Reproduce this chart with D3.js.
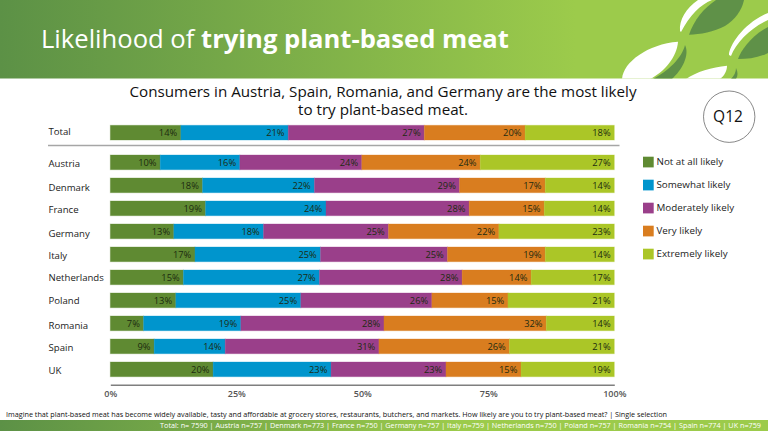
<!DOCTYPE html>
<html>
<head>
<meta charset="utf-8">
<script src="https://cdn.jsdelivr.net/npm/d3@7/dist/d3.min.js"></script>
<style>
  html, body { margin: 0; padding: 0; background: #fff; }
  svg { display: block; font-family: "Open Sans", sans-serif; }
</style>
</head>
<body>
<div id="vis"></div>
<script>
var totalRow = ["Total"];
var countries = ["Austria", "Denmark", "France", "Germany", "Italy", "Netherlands", "Poland", "Romania", "Spain", "UK"];
var levels = ["Not at all likely", "Somewhat likely", "Moderately likely", "Very likely", "Extremely likely"];
var levelColors = ["#5f8a32", "#0095cd", "#9a3f8a", "#d97d1f", "#abc627"];

// one array per answer, Total first then countries in order
var notAtAll   = [14.0, 9.9, 18.3, 18.9, 12.6, 16.8, 14.5, 13.0, 6.6, 8.7, 20.4];
var somewhat   = [21.3, 15.8, 22.2, 23.9, 17.8, 24.9, 27.0, 24.8, 19.3, 14.1, 23.4];
var moderately = [27.0, 24.2, 28.8, 28.4, 24.8, 25.2, 28.3, 26.0, 28.4, 30.5, 22.8];
var veryLikely = [20.0, 23.5, 17.0, 14.9, 21.9, 19.4, 13.7, 15.1, 32.2, 25.9, 14.9];
var extremely  = [17.7, 26.6, 13.7, 13.9, 22.9, 13.7, 16.5, 21.1, 13.5, 20.8, 18.5];
var xTicks = [0, 25, 50, 75, 100];

var rowNames = totalRow.concat(countries);
var series = [notAtAll, somewhat, moderately, veryLikely, extremely];

var svg = d3.select("#vis").append("svg").attr("width", 768).attr("height", 431);
var defs = svg.append("defs");

var headGrad = defs.append("linearGradient").attr("id", "head");
headGrad.append("stop").attr("offset", "0%").attr("stop-color", "#5c9146");
headGrad.append("stop").attr("offset", "75%").attr("stop-color", "#9ccb4b");
var footGrad = defs.append("linearGradient").attr("id", "foot");
footGrad.append("stop").attr("offset", "0%").attr("stop-color", "#5c9146");
footGrad.append("stop").attr("offset", "60%").attr("stop-color", "#9ccb4b");

// header band
svg.append("rect").attr("width", 768).attr("height", 78.5).attr("fill", "url(#head)");
defs.append("clipPath").attr("id", "headClip").append("rect").attr("width", 768).attr("height", 78.5);
var leaves = svg.append("g").attr("clip-path", "url(#headClip)");
leaves.append("path").attr("fill", "#5f9148").attr("d", "M689 34.7 C694 20 704 8 716 0 L744 0 C742 10 735 20 725 26 C714 32 700 34.5 689 34.7Z");
leaves.append("path").attr("fill", "#fff").attr("d", "M680 31 C679 20 686 8 698 0 L712 0 C700 5 690 15 681 32Z");
leaves.append("path").attr("fill", "#5f9148").attr("d", "M738 59 C741 50 752 35 768 27 L768 53 C758 58 748 59 738 59Z");
leaves.append("path").attr("fill", "#fff").attr("d", "M729 55 C729 45 745 22 768 13 L768 20 C752 27 736 42 731 56Z");
leaves.append("path").attr("fill", "#fff").attr("d", "M622 79 C623 62 648 44 678 41.7 C677 57 664 72 650 79Z");
leaves.append("path").attr("fill", "#5f9148").attr("d", "M653 79 C668 71 682 58 685 45 C690 55 682 70 672 79Z");
leaves.append("path").attr("fill", "#fff").attr("d", "M686 79 C696 72 712 67 727 65.7 C727 71 724 76 720 79Z");
leaves.append("path").attr("fill", "#5f9148").attr("d", "M731 79 C734 76 736 72 736 68 C738 72 738 76 736 79Z");

svg.append("text").attr("x", 41).attr("y", 48).attr("fill", "#fff").attr("font-size", 25.6)
  .html('Likelihood of <tspan font-weight="700">trying plant-based meat</tspan>');

// headline
svg.append("g").attr("text-anchor", "middle").attr("font-size", 15.2).attr("fill", "#111")
  .selectAll("text")
  .data(["Consumers in Austria, Spain, Romania, and Germany are the most likely", "to try plant-based meat."])
  .join("text")
  .attr("x", 383).attr("y", function(d, i) { return 96.5 + i * 18; })
  .text(function(d) { return d; });

// Q12 badge
svg.append("circle").attr("cx", 729.2).attr("cy", 116.7).attr("r", 25.7).attr("fill", "#fff").attr("stroke", "#555").attr("stroke-width", 0.7);
svg.append("text").attr("x", 728).attr("y", 122).attr("text-anchor", "middle").attr("font-size", 15.5).attr("fill", "#111").text("Q12");

// scales
var x = d3.scaleLinear().domain([0, 100]).range([110.3, 614.3]);
var yCountry = d3.scaleBand().domain(countries).range([150.85, 380.85]).paddingInner(0.36).paddingOuter(0.18);
var y = function(name) { return name === "Total" ? yCountry("Austria") - 29.7 : yCountry(name); };
var barH = yCountry.bandwidth();

// row names sit a little unevenly next to the bars in the original
var labelShift = { Total: -1, Austria: 1, Denmark: 2, France: 1.5, Germany: 2, Italy: 1, Netherlands: 0.5, Poland: 0.5, Romania: 2.5, Spain: 1, UK: 1.5 };

var rows = rowNames.map(function(name, i) {
  var sum = 0;
  var parts = series.map(function(s, k) {
    var p = { level: k, value: s[i], x0: sum };
    sum += s[i];
    p.x1 = sum;
    return p;
  });
  return { name: name, parts: parts };
});

var row = svg.append("g").selectAll("g").data(rows).join("g")
  .attr("transform", function(d) { return "translate(0," + y(d.name) + ")"; });

row.append("text").attr("x", 48.5).attr("y", function(d) { return barH / 2 + 3.5 + labelShift[d.name]; })
  .attr("font-size", 9.6).attr("fill", "#222")
  .text(function(d) { return d.name; });

var seg = row.selectAll("g.seg").data(function(d) { return d.parts; }).join("g").attr("class", "seg");
seg.append("rect")
  .attr("x", function(p) { return x(p.x0); })
  .attr("width", function(p) { return x(p.x1) - x(p.x0); })
  .attr("height", barH)
  .attr("fill", function(p) { return levelColors[p.level]; })
  .attr("stroke", function(p) { return levelColors[p.level]; })
  .attr("stroke-opacity", 0.3).attr("stroke-width", 1);
seg.append("text")
  .attr("x", function(p) { return x(p.x1) - 3.7; })
  .attr("y", barH / 2 + 3.3)
  .attr("text-anchor", "end").attr("font-size", 9.3).attr("fill", "#1c2b10")
  .text(function(p) { return Math.round(p.value) + "%"; });

// rules
svg.append("line").attr("x1", 48).attr("x2", 619.5).attr("y1", 145.5).attr("y2", 145.5).attr("stroke", "#a6a6a6").attr("stroke-width", 1.5);
var axis = d3.axisBottom(x).tickValues(xTicks).tickSize(0).tickPadding(6).tickFormat(function(d) { return d + "%"; });
var axisG = svg.append("g").attr("transform", "translate(0,384.7)").call(axis);
axisG.select(".domain").attr("stroke", "#7f7f7f").attr("stroke-width", 1.5);
axisG.selectAll("text").attr("font-family", "Open Sans").attr("font-size", 9).attr("font-weight", 600).attr("fill", "#555");

// legend
var legend = svg.append("g").selectAll("g").data(levels).join("g")
  .attr("transform", function(d, i) { return "translate(643," + (156.7 + i * 23) + ")"; });
legend.append("rect").attr("width", 10.7).attr("height", 10.7).attr("fill", function(d, i) { return levelColors[i]; });
legend.append("text").attr("x", 13.5).attr("y", 8.5).attr("font-size", 9.8).attr("fill", "#222").text(function(d) { return d; });

// footer
svg.append("text").attr("x", 6).attr("y", 416.8).attr("font-size", 7.23).attr("fill", "#111")
  .text("Imagine that plant-based meat has become widely available, tasty and affordable at grocery stores, restaurants, butchers, and markets. How likely are you to try plant-based meat? | Single selection");
svg.append("rect").attr("y", 420).attr("width", 768).attr("height", 11).attr("fill", "url(#foot)");
svg.append("text").attr("x", 761).attr("y", 428).attr("text-anchor", "end").attr("font-size", 7.25).attr("fill", "#fff")
  .text("Total: n= 7590 | Austria n=757 | Denmark n=773 | France n=750 |  Germany n=757 | Italy n=759 | Netherlands n=750 | Poland n=757 | Romania n=754 | Spain n=774 | UK n=759");
</script>
</body>
</html>
